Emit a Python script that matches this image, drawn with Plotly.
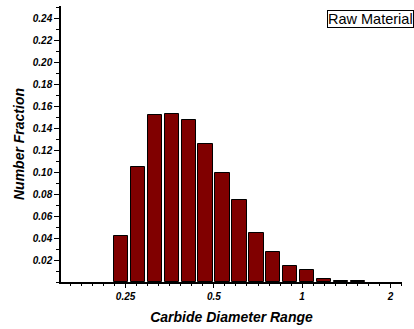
import numpy as np
import plotly.graph_objects as go

# Bin centres (Carbide diameter, log-spaced) and number fraction
bin_centers = [0.2413, 0.2756, 0.3148, 0.3594, 0.4105, 0.4688, 0.5354, 0.6114,
               0.6983, 0.7975, 0.9109, 1.0404, 1.188, 1.357, 1.550]
number_fraction = [0.042, 0.105, 0.152, 0.153, 0.148, 0.126, 0.099, 0.075,
                   0.045, 0.027, 0.015, 0.011, 0.003, 0.001, 0.001]
x_tick_values = [0.25, 0.5, 1, 2]
x_tick_labels = ["0.25", "0.5", "1", "2"]
y_tick_values = [0.02, 0.04, 0.06, 0.08, 0.10, 0.12, 0.14, 0.16, 0.18, 0.20, 0.22, 0.24]
y_tick_labels = ["0.02", "0.04", "0.06", "0.08", "0.10", "0.12", "0.14", "0.16",
                 "0.18", "0.20", "0.22", "0.24"]
legend_label = "Raw Material"

FONT = "Arial, 'Liberation Sans', sans-serif"
bar_width_log = 0.0488  # bar width in log10 units

fig = go.Figure()
fig.add_trace(go.Bar(
    x=np.log10(bin_centers),
    y=number_fraction,
    width=bar_width_log,
    marker=dict(color="#800000", line=dict(color="black", width=1)),
    showlegend=False,
))

fig.update_layout(
    width=414, height=329,
    margin=dict(l=61, r=12, t=6, b=47),
    paper_bgcolor="white", plot_bgcolor="white",
    font=dict(family=FONT, color="black"),
    bargap=0,
    xaxis=dict(
        range=[np.log10(0.1506), np.log10(2.19)],
        tickvals=np.log10(x_tick_values), ticktext=x_tick_labels,
        ticks="outside", ticklen=4, tickwidth=1, tickcolor="black",
        showline=True, linecolor="black", linewidth=1.5,
        showgrid=False, zeroline=False,
        tickfont=dict(size=10, weight="bold", style="italic", family=FONT),
        minor=dict(ticks="outside", ticklen=2, tickcolor="black",
                   tick0=np.log10(0.25), dtick=np.log10(2) / 8, showgrid=False),
        title=dict(text="Carbide Diameter Range", standoff=11,
                   font=dict(size=14, weight="bold", style="italic", family=FONT)),
    ),
    yaxis=dict(
        range=[0, 0.2515],
        tickvals=y_tick_values, ticktext=y_tick_labels,
        ticks="outside", ticklen=5, tickwidth=1, tickcolor="black",
        showline=True, linecolor="black", linewidth=1.5,
        showgrid=False, zeroline=False,
        tickfont=dict(size=10, weight="bold", style="italic", family=FONT),
        minor=dict(ticks="outside", ticklen=3, tickcolor="black",
                   tick0=0, dtick=0.01, showgrid=False),
        title=dict(text="Number Fraction", standoff=5,
                   font=dict(size=14, weight="bold", style="italic", family=FONT)),
    ),
    annotations=[dict(
        text=legend_label, xref="paper", yref="paper",
        x=0.78, y=0.986, xanchor="left", yanchor="top", showarrow=False,
        font=dict(size=14.5, family=FONT, color="black"),
        bordercolor="black", borderwidth=1, borderpad=0, bgcolor="white",
    )],
)

fig.write_html("out.html")
